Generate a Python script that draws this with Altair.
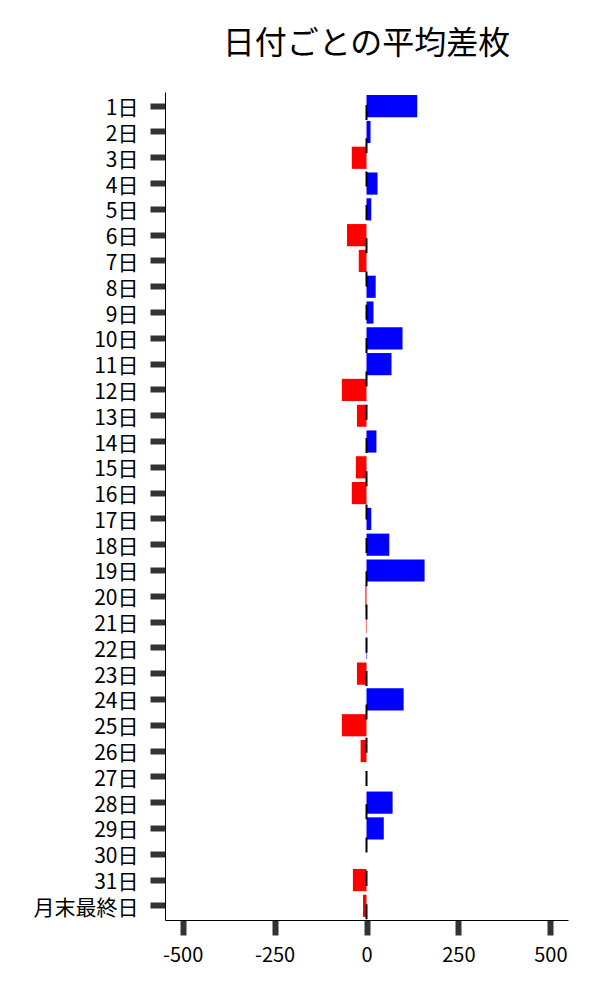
import altair as alt
import pandas as pd

days = ["1日", "2日", "3日", "4日", "5日", "6日", "7日", "8日", "9日", "10日",
        "11日", "12日", "13日", "14日", "15日", "16日", "17日", "18日", "19日", "20日",
        "21日", "22日", "23日", "24日", "25日", "26日", "27日", "28日", "29日", "30日",
        "31日", "月末最終日"]
diffs = [138, 11, -40, 30, 13, -53, -21, 25, 19, 98,
         68, -67, -26, 27, -29, -40, 13, 62, 158, -3,
         -1.5, 1.5, -26, 101, -67, -16, 0, 71, 47, 0,
         -37, -9.5]
x_ticks = [-500, -250, 0, 250, 500]
title_text = "日付ごとの平均差枚"

df = pd.DataFrame({"day": days, "diff": diffs})
zero_df = pd.DataFrame({"x": [0]})

FONT = "Noto Sans CJK JP"

bars = alt.Chart(df).mark_bar().encode(
    y=alt.Y(
        "day:N", sort=days, title=None,
        scale=alt.Scale(paddingInner=0.14, paddingOuter=0.12),
        axis=alt.Axis(labelFontSize=21, labelFont=FONT, labelColor="#000000",
                      tickSize=15, tickWidth=6, tickColor="#333333",
                      domainColor="#000000", domainWidth=1, labelPadding=12,
                      labelOffset=3, grid=False),
    ),
    x=alt.X(
        "diff:Q", title=None,
        scale=alt.Scale(domain=[-548, 548], nice=False),
        axis=alt.Axis(values=x_ticks, labelExpr="toString(datum.value)",
                      labelFontSize=20, labelFont=FONT, labelColor="#000000",
                      tickSize=15, tickWidth=6, tickColor="#333333",
                      domainColor="#000000", domainWidth=1, labelPadding=10,
                      grid=False),
    ),
    color=alt.condition("datum.diff >= 0", alt.value("#0000ff"), alt.value("#ff0000")),
)

rule = alt.Chart(zero_df).mark_rule(
    color="#000000", strokeWidth=2, strokeDash=[15, 18.3], strokeDashOffset=20.3
).encode(x=alt.X("x:Q", title=None))

chart = alt.layer(bars, rule).properties(
    width=403,
    height=828,
    title=alt.Title(title_text, font=FONT, fontSize=32, fontWeight="normal",
                    color="#000000", anchor="middle", offset=30),
    autosize=alt.AutoSizeParams(type="none"),
    padding={"left": 157, "top": 84, "right": 24, "bottom": 72},
).configure_view(stroke=None)

chart.save("out.html", embed_options={"renderer": "svg", "actions": False})
